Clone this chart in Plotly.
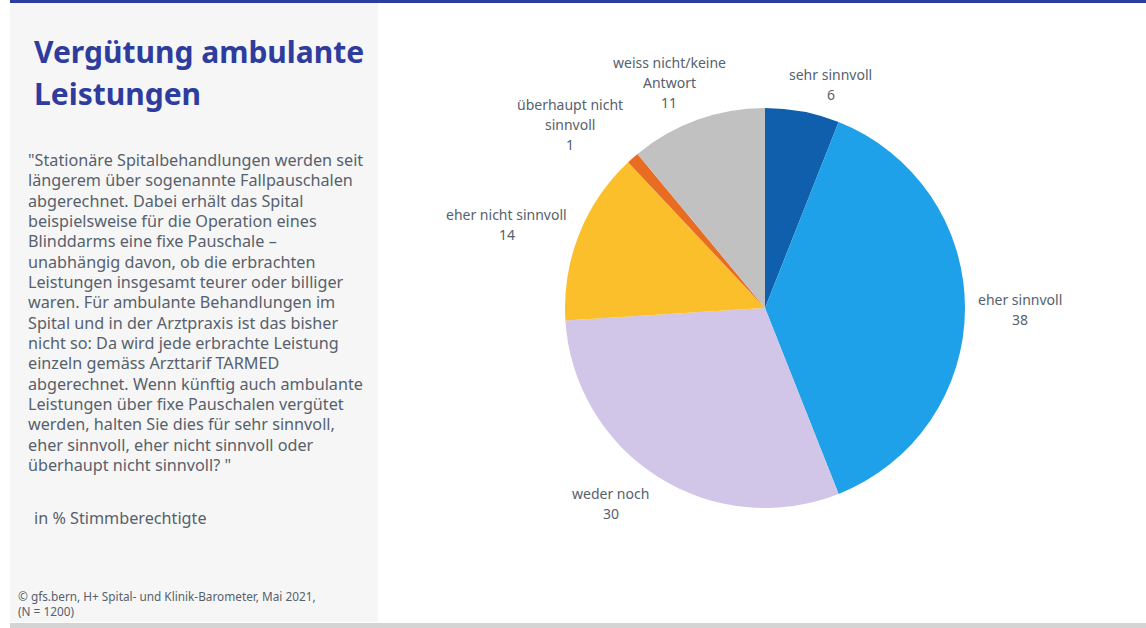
import math
import plotly.graph_objects as go

# Survey answers (in % of eligible voters)
categories = ["sehr sinnvoll", "eher sinnvoll", "weder noch", "eher nicht sinnvoll",
              "überhaupt nicht sinnvoll", "weiss nicht/keine Antwort"]
label_lines = [["sehr sinnvoll"], ["eher sinnvoll"], ["weder noch"], ["eher nicht sinnvoll"],
               ["überhaupt nicht", "sinnvoll"], ["weiss nicht/keine", "Antwort"]]
values = [6, 38, 30, 14, 1, 11]
colors = ["#0F5FAD", "#1FA1E9", "#D1C5E8", "#FBBF2B", "#E86C22", "#C1C1C1"]
# small horizontal/vertical nudges (px) applied to the outside labels
label_nudge = [(18, 0), (1, 1), (-24, 3), (-3, 0), (-23, -5), (-5, -2)]

title_lines = ["Vergütung ambulante", "Leistungen"]
question_lines = [
    "\"Stationäre Spitalbehandlungen werden seit",
    "längerem über sogenannte Fallpauschalen",
    "abgerechnet. Dabei erhält das Spital",
    "beispielsweise für die Operation eines",
    "Blinddarms eine fixe Pauschale –",
    "unabhängig davon, ob die erbrachten",
    "Leistungen insgesamt teurer oder billiger",
    "waren. Für ambulante Behandlungen im",
    "Spital und in der Arztpraxis ist das bisher",
    "nicht so: Da wird jede erbrachte Leistung",
    "einzeln gemäss Arzttarif TARMED",
    "abgerechnet. Wenn künftig auch ambulante",
    "Leistungen über fixe Pauschalen vergütet",
    "werden, halten Sie dies für sehr sinnvoll,",
    "eher sinnvoll, eher nicht sinnvoll oder",
    "überhaupt nicht sinnvoll? \"",
]
unit_note = "in % Stimmberechtigte"
source_lines = ["© gfs.bern, H+ Spital- und Klinik-Barometer, Mai 2021,", "(N = 1200)"]

W, H = 1146, 628
FONT = "Noto Sans"
TEXT = "#56616C"
NAVY = "#2E3C9E"

# pie geometry in pixels
CX, CY, R = 765, 308, 200


def px(x):
    return x / W


def py(y):
    return 1 - y / H


fig = go.Figure(go.Pie(
    labels=categories,
    values=values,
    sort=False,
    direction="clockwise",
    rotation=0,
    marker=dict(colors=colors, line=dict(width=0)),
    textinfo="none",
    showlegend=False,
    hoverinfo="label+value",
    domain=dict(x=[px(CX - R), px(CX + R)], y=[py(CY + R), py(CY - R)]),
))

shapes = [
    # left information panel
    dict(type="rect", xref="paper", yref="paper", x0=px(10), x1=px(378), y0=py(622), y1=py(3),
         fillcolor="#F6F6F6", line=dict(width=0), layer="below"),
    # top rule
    dict(type="rect", xref="paper", yref="paper", x0=px(10), x1=1, y0=py(3), y1=1,
         fillcolor=NAVY, line=dict(width=0), layer="below"),
    # bottom rule
    dict(type="rect", xref="paper", yref="paper", x0=px(10), x1=1, y0=0, y1=py(623),
         fillcolor="#D4D4D4", line=dict(width=0), layer="below"),
]

annotations = []


def add_lines(lines, x, y0, step, size, color, anchor="left", bold=False):
    for i, line in enumerate(lines):
        txt = f"<b>{line}</b>" if bold else line
        annotations.append(dict(
            text=txt, x=px(x), y=py(y0 + i * step), xref="paper", yref="paper",
            xanchor=anchor, yanchor="middle", align=anchor, showarrow=False,
            font=dict(family=FONT, size=size, color=color)))


add_lines(title_lines, 32, 51, 42, 30, NAVY, bold=True)
add_lines(question_lines, 26, 160, 20.33, 16.2, TEXT)
add_lines([unit_note], 32, 518, 20, 16.2, TEXT)

# source note (single block)
annotations.append(dict(
    text="<br>".join(source_lines), x=px(16), y=py(603), xref="paper", yref="paper",
    xanchor="left", yanchor="middle", align="left", showarrow=False,
    font=dict(family=FONT, size=11.8, color=TEXT)))

# outside labels: placed just beyond the rim along each slice's mid-angle
total = sum(values)
cum = 0
gap = 8
for lines, v, (nx, ny) in zip(label_lines, values, label_nudge):
    mid = (cum + v / 2) / total * 2 * math.pi
    cum += v
    dx, dy = math.sin(mid), -math.cos(mid)
    all_lines = lines + [str(v)]
    w = 7.0 * max(len(s) for s in all_lines)
    h = 20 * len(all_lines)
    cx = CX + dx * (R + gap) + dx * w / 2 + nx
    cy = CY + dy * (R + gap) + dy * h / 2 + ny
    top = cy - (len(all_lines) - 1) * 10
    add_lines(all_lines, cx, top, 20, 14, TEXT, anchor="center")

fig.update_layout(
    width=W, height=H,
    margin=dict(l=0, r=0, t=0, b=0),
    paper_bgcolor="white",
    plot_bgcolor="white",
    shapes=shapes,
    annotations=annotations,
)

fig.write_html("out.html")
